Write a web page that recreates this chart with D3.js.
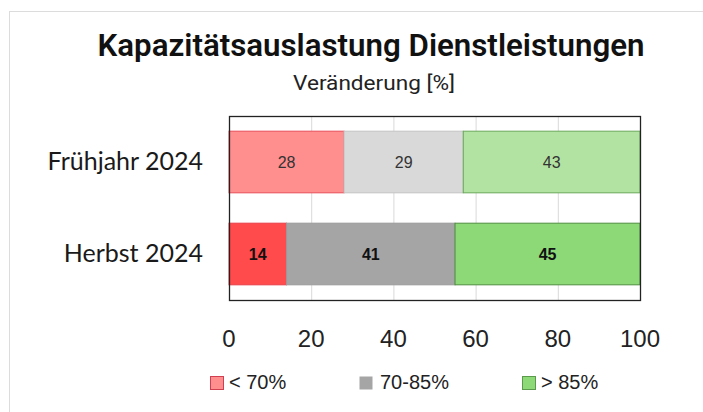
<!DOCTYPE html>
<html>
<head>
<meta charset="utf-8">
<script src="https://cdn.jsdelivr.net/npm/d3@7"></script>
<style>
  body { margin: 0; background: #fff; }
  svg { display: block; }
</style>
</head>
<body>
<div id="chart"></div>
<script>
const categories = ["Frühjahr 2024", "Herbst 2024"];
const seriesNames = ["< 70%", "70-85%", "> 85%"];
const below70 = [28, 14];
const mid70to85 = [29, 41];
const above85 = [43, 45];
const xTicks = [0, 20, 40, 60, 80, 100];

const width = 703, height = 412;
const plot = { left: 229, right: 640, top: 116, bottom: 300 };

// fill / stroke per series, light shade for row 0, strong shade for row 1
const fills = [
  ["#ff8f8f", "#ff4b4b"],
  ["#d9d9d9", "#a5a5a5"],
  ["#b3e3a2", "#8dd978"]
];
const strokes = [
  ["#e8505a", "#e8404a"],
  ["#c4c4c4", "#9a9a9a"],
  ["#6aa85a", "#4f8f40"]
];
const legendFill = ["#ff8f8f", "#a5a5a5", "#8dd978"];
const legendStroke = ["#d04050", "none", "#5a9a4a"];

const svg = d3.select("#chart").append("svg")
  .attr("width", width)
  .attr("height", height);

// outer frame
svg.append("rect")
  .attr("x", 9.5).attr("y", 11.5)
  .attr("width", width + 10).attr("height", height + 10)
  .attr("fill", "none")
  .attr("stroke", "#dcdcdc");

const x = d3.scaleLinear().domain([0, 100]).range([plot.left, plot.right]);
const y = d3.scaleBand().domain(categories).range([plot.top, plot.bottom]).paddingInner(0.33).paddingOuter(0.165);

// gridlines
svg.append("g")
  .selectAll("line")
  .data(xTicks.slice(1, -1))
  .enter().append("line")
  .attr("x1", d => x(d) + 0.5).attr("x2", d => x(d) + 0.5)
  .attr("y1", plot.top).attr("y2", plot.bottom)
  .attr("stroke", "#d9d9d9");

const rows = categories.map((c, i) => {
  const vals = [below70[i], mid70to85[i], above85[i]];
  let acc = 0;
  return vals.map((v, s) => {
    const seg = { cat: c, row: i, s, v, x0: acc, x1: acc + v };
    acc += v;
    return seg;
  });
}).flat();

svg.append("g")
  .selectAll("rect")
  .data(rows)
  .enter().append("rect")
  .attr("x", d => x(d.x0))
  .attr("y", d => y(d.cat))
  .attr("width", d => x(d.x1) - x(d.x0))
  .attr("height", y.bandwidth())
  .attr("fill", d => fills[d.s][d.row])
  .attr("stroke", d => strokes[d.s][d.row])
  .attr("stroke-width", 1);

svg.append("g")
  .selectAll("text")
  .data(rows)
  .enter().append("text")
  .attr("x", d => x((d.x0 + d.x1) / 2))
  .attr("y", d => y(d.cat) + y.bandwidth() / 2 + 6)
  .attr("text-anchor", "middle")
  .attr("font-family", "Liberation Sans, Arial, sans-serif")
  .attr("font-size", 16)
  .attr("font-weight", d => d.row === 1 ? "bold" : "normal")
  .attr("fill", d => d.row === 1 ? "#111" : "#333")
  .text(d => d.v);

// plot frame
svg.append("rect")
  .attr("x", plot.left + 0.5).attr("y", plot.top + 0.5)
  .attr("width", plot.right - plot.left).attr("height", plot.bottom - plot.top)
  .attr("fill", "none")
  .attr("stroke", "#222")
  .attr("stroke-width", 1.3);

// category labels
svg.append("g")
  .selectAll("text")
  .data(categories)
  .enter().append("text")
  .attr("x", 203)
  .attr("y", d => y(d) + y.bandwidth() / 2 + 8)
  .attr("text-anchor", "end")
  .attr("font-family", "Lato, sans-serif")
  .attr("font-size", 25)
  .attr("fill", "#1a1a1a")
  .text(d => d);

// x tick labels
svg.append("g")
  .selectAll("text")
  .data(xTicks)
  .enter().append("text")
  .attr("x", d => x(d))
  .attr("y", 347)
  .attr("text-anchor", "middle")
  .attr("font-family", "Liberation Sans, Arial, sans-serif")
  .attr("font-size", 24)
  .attr("fill", "#222")
  .text(d => d);

// title
svg.append("text")
  .attr("x", 371).attr("y", 56)
  .attr("text-anchor", "middle")
  .attr("font-family", "Roboto, sans-serif")
  .attr("font-weight", 600)
  .attr("font-size", 31)
  .attr("textLength", 547)
  .attr("lengthAdjust", "spacingAndGlyphs")
  .attr("fill", "#111")
  .text("Kapazitätsauslastung Dienstleistungen");

svg.append("text")
  .attr("x", 374).attr("y", 90)
  .attr("text-anchor", "middle")
  .attr("font-family", "Roboto, sans-serif")
  .attr("font-size", 20)
  .attr("textLength", 162)
  .attr("lengthAdjust", "spacingAndGlyphs")
  .attr("fill", "#222")
  .text("Veränderung [%]");

// legend
const legendX = [210, 359, 522];
const legend = svg.append("g")
  .selectAll("g")
  .data(seriesNames)
  .enter().append("g")
  .attr("transform", (d, i) => `translate(${legendX[i]},376)`);

legend.append("rect")
  .attr("x", 0.5).attr("y", 0.5)
  .attr("width", 13).attr("height", 13)
  .attr("fill", (d, i) => legendFill[i])
  .attr("stroke", (d, i) => legendStroke[i]);

legend.append("text")
  .attr("x", (d, i) => i === 1 ? 21 : 19)
  .attr("y", 13)
  .attr("font-family", "Liberation Sans, Arial, sans-serif")
  .attr("font-size", 20)
  .attr("fill", "#222")
  .text(d => d);
</script>
</body>
</html>
